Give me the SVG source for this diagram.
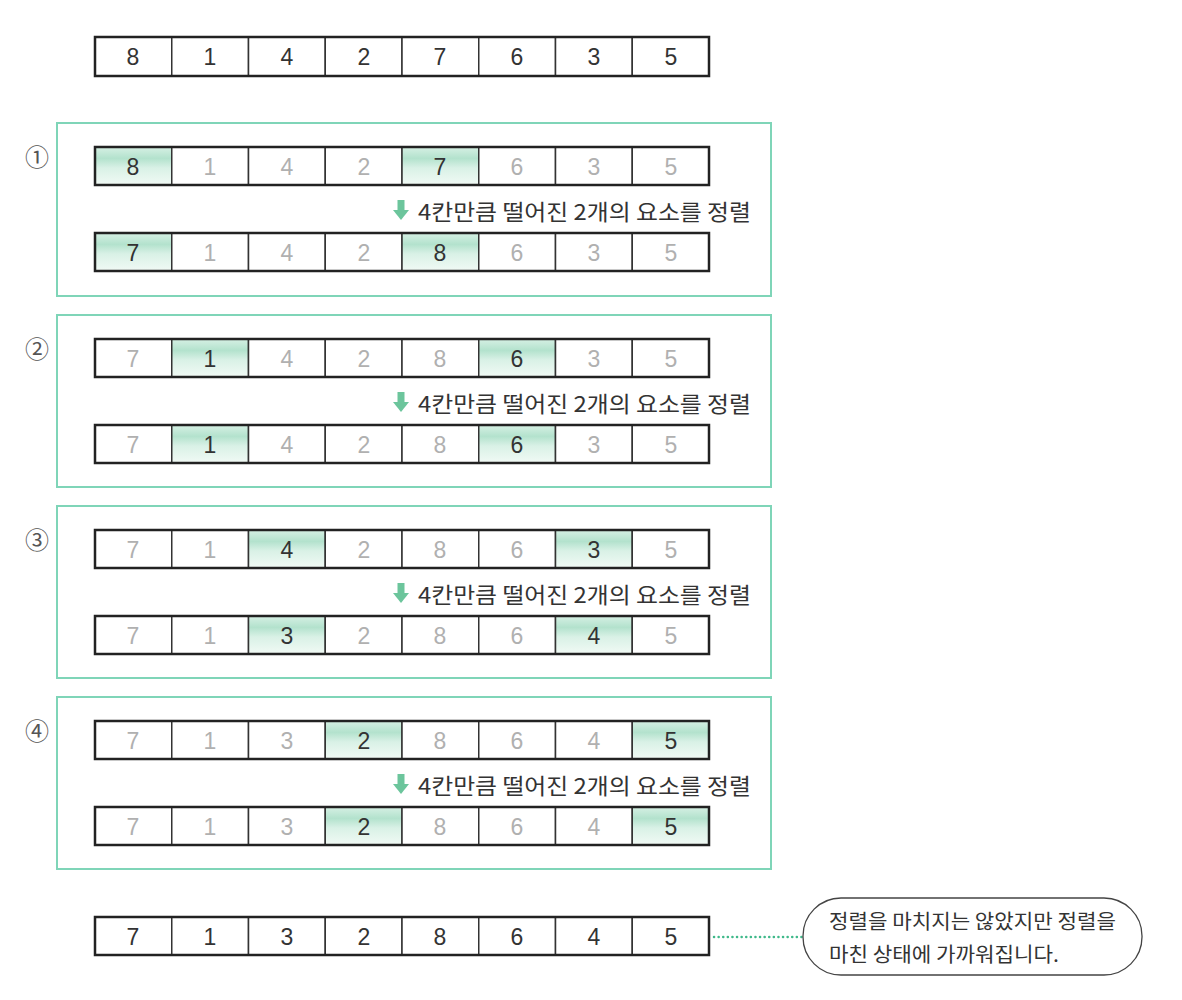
<svg xmlns="http://www.w3.org/2000/svg" width="1182" height="1000" viewBox="0 0 1182 1000">
<defs>
<linearGradient id="g" x1="0" y1="0" x2="0" y2="1">
<stop offset="0" stop-color="#d6f0e4"/>
<stop offset="0.3" stop-color="#b3e2cd"/>
<stop offset="0.55" stop-color="#d9f1e6"/>
<stop offset="1" stop-color="#f1faf5"/>
</linearGradient>
<g id="arrow"><rect x="-3.5" y="0" width="7" height="11" fill="#6cc59c"/><path d="M-8 10 L8 10 L0 20 Z" fill="#6cc59c"/></g>
</defs>
<style>
.bg{fill:#fff}
.cell{fill:#fff;stroke:#333;stroke-width:1.5}
.hl{fill:url(#g);stroke:#333;stroke-width:1.5}
.outer{fill:none;stroke:#222;stroke-width:2.5}
.n{font-family:"Liberation Sans","Noto Sans",sans-serif;font-size:23px;text-anchor:middle;fill:#333}
.m{font-family:"Liberation Sans","Noto Sans",sans-serif;font-size:23px;text-anchor:middle;fill:#b0b0b0}
.box{fill:none;stroke:#7fd5b8;stroke-width:2}
.lbl{font-family:"Noto Sans CJK KR","Noto Sans",sans-serif;font-size:22px;fill:#333}
.cl{font-family:"Noto Sans CJK KR","Noto Sans",sans-serif;font-size:20px;fill:#333}
.circ{font-family:"Noto Sans CJK KR","DejaVu Sans",sans-serif;font-size:24px;fill:#555;text-anchor:middle}
</style>
<rect class="bg" width="1182" height="1000"/>

<g id="top-array">
<rect class="cell" x="95" y="37" width="76.75" height="39"/><rect class="cell" x="171.75" y="37" width="76.75" height="39"/><rect class="cell" x="248.5" y="37" width="76.75" height="39"/><rect class="cell" x="325.25" y="37" width="76.75" height="39"/><rect class="cell" x="402" y="37" width="76.75" height="39"/><rect class="cell" x="478.75" y="37" width="76.75" height="39"/><rect class="cell" x="555.5" y="37" width="76.75" height="39"/><rect class="cell" x="632.25" y="37" width="76.75" height="39"/>
<rect class="outer" x="95" y="37" width="614" height="39"/>
<text class="n" x="133" y="65">8</text><text class="n" x="210" y="65">1</text><text class="n" x="287" y="65">4</text><text class="n" x="364" y="65">2</text><text class="n" x="440" y="65">7</text><text class="n" x="517" y="65">6</text><text class="n" x="594" y="65">3</text><text class="n" x="671" y="65">5</text>
</g>

<g id="step1">
<rect class="box" x="57" y="123" width="714" height="173"/>
<text class="circ" x="37" y="166">①</text>
<rect class="hl" x="95" y="147" width="76.75" height="38"/><rect class="cell" x="171.75" y="147" width="76.75" height="38"/><rect class="cell" x="248.5" y="147" width="76.75" height="38"/><rect class="cell" x="325.25" y="147" width="76.75" height="38"/><rect class="hl" x="402" y="147" width="76.75" height="38"/><rect class="cell" x="478.75" y="147" width="76.75" height="38"/><rect class="cell" x="555.5" y="147" width="76.75" height="38"/><rect class="cell" x="632.25" y="147" width="76.75" height="38"/>
<rect class="outer" x="95" y="147" width="614" height="38"/>
<text class="n" x="133" y="175">8</text><text class="m" x="210" y="175">1</text><text class="m" x="287" y="175">4</text><text class="m" x="364" y="175">2</text><text class="n" x="440" y="175">7</text><text class="m" x="517" y="175">6</text><text class="m" x="594" y="175">3</text><text class="m" x="671" y="175">5</text>
<use href="#arrow" x="401" y="200"/>
<text class="lbl" x="418" y="220" textLength="333" lengthAdjust="spacingAndGlyphs">4칸만큼 떨어진 2개의 요소를 정렬</text>
<rect class="hl" x="95" y="233" width="76.75" height="38"/><rect class="cell" x="171.75" y="233" width="76.75" height="38"/><rect class="cell" x="248.5" y="233" width="76.75" height="38"/><rect class="cell" x="325.25" y="233" width="76.75" height="38"/><rect class="hl" x="402" y="233" width="76.75" height="38"/><rect class="cell" x="478.75" y="233" width="76.75" height="38"/><rect class="cell" x="555.5" y="233" width="76.75" height="38"/><rect class="cell" x="632.25" y="233" width="76.75" height="38"/>
<rect class="outer" x="95" y="233" width="614" height="38"/>
<text class="n" x="133" y="261">7</text><text class="m" x="210" y="261">1</text><text class="m" x="287" y="261">4</text><text class="m" x="364" y="261">2</text><text class="n" x="440" y="261">8</text><text class="m" x="517" y="261">6</text><text class="m" x="594" y="261">3</text><text class="m" x="671" y="261">5</text>
</g>

<g id="step2">
<rect class="box" x="57" y="315" width="714" height="172"/>
<text class="circ" x="37" y="358">②</text>
<rect class="cell" x="95" y="339" width="76.75" height="38"/><rect class="hl" x="171.75" y="339" width="76.75" height="38"/><rect class="cell" x="248.5" y="339" width="76.75" height="38"/><rect class="cell" x="325.25" y="339" width="76.75" height="38"/><rect class="cell" x="402" y="339" width="76.75" height="38"/><rect class="hl" x="478.75" y="339" width="76.75" height="38"/><rect class="cell" x="555.5" y="339" width="76.75" height="38"/><rect class="cell" x="632.25" y="339" width="76.75" height="38"/>
<rect class="outer" x="95" y="339" width="614" height="38"/>
<text class="m" x="133" y="367">7</text><text class="n" x="210" y="367">1</text><text class="m" x="287" y="367">4</text><text class="m" x="364" y="367">2</text><text class="m" x="440" y="367">8</text><text class="n" x="517" y="367">6</text><text class="m" x="594" y="367">3</text><text class="m" x="671" y="367">5</text>
<use href="#arrow" x="401" y="392"/>
<text class="lbl" x="418" y="412" textLength="333" lengthAdjust="spacingAndGlyphs">4칸만큼 떨어진 2개의 요소를 정렬</text>
<rect class="cell" x="95" y="425" width="76.75" height="38"/><rect class="hl" x="171.75" y="425" width="76.75" height="38"/><rect class="cell" x="248.5" y="425" width="76.75" height="38"/><rect class="cell" x="325.25" y="425" width="76.75" height="38"/><rect class="cell" x="402" y="425" width="76.75" height="38"/><rect class="hl" x="478.75" y="425" width="76.75" height="38"/><rect class="cell" x="555.5" y="425" width="76.75" height="38"/><rect class="cell" x="632.25" y="425" width="76.75" height="38"/>
<rect class="outer" x="95" y="425" width="614" height="38"/>
<text class="m" x="133" y="453">7</text><text class="n" x="210" y="453">1</text><text class="m" x="287" y="453">4</text><text class="m" x="364" y="453">2</text><text class="m" x="440" y="453">8</text><text class="n" x="517" y="453">6</text><text class="m" x="594" y="453">3</text><text class="m" x="671" y="453">5</text>
</g>

<g id="step3">
<rect class="box" x="57" y="506" width="714" height="172"/>
<text class="circ" x="37" y="549">③</text>
<rect class="cell" x="95" y="530" width="76.75" height="38"/><rect class="cell" x="171.75" y="530" width="76.75" height="38"/><rect class="hl" x="248.5" y="530" width="76.75" height="38"/><rect class="cell" x="325.25" y="530" width="76.75" height="38"/><rect class="cell" x="402" y="530" width="76.75" height="38"/><rect class="cell" x="478.75" y="530" width="76.75" height="38"/><rect class="hl" x="555.5" y="530" width="76.75" height="38"/><rect class="cell" x="632.25" y="530" width="76.75" height="38"/>
<rect class="outer" x="95" y="530" width="614" height="38"/>
<text class="m" x="133" y="558">7</text><text class="m" x="210" y="558">1</text><text class="n" x="287" y="558">4</text><text class="m" x="364" y="558">2</text><text class="m" x="440" y="558">8</text><text class="m" x="517" y="558">6</text><text class="n" x="594" y="558">3</text><text class="m" x="671" y="558">5</text>
<use href="#arrow" x="401" y="583"/>
<text class="lbl" x="418" y="603" textLength="333" lengthAdjust="spacingAndGlyphs">4칸만큼 떨어진 2개의 요소를 정렬</text>
<rect class="cell" x="95" y="616" width="76.75" height="38"/><rect class="cell" x="171.75" y="616" width="76.75" height="38"/><rect class="hl" x="248.5" y="616" width="76.75" height="38"/><rect class="cell" x="325.25" y="616" width="76.75" height="38"/><rect class="cell" x="402" y="616" width="76.75" height="38"/><rect class="cell" x="478.75" y="616" width="76.75" height="38"/><rect class="hl" x="555.5" y="616" width="76.75" height="38"/><rect class="cell" x="632.25" y="616" width="76.75" height="38"/>
<rect class="outer" x="95" y="616" width="614" height="38"/>
<text class="m" x="133" y="644">7</text><text class="m" x="210" y="644">1</text><text class="n" x="287" y="644">3</text><text class="m" x="364" y="644">2</text><text class="m" x="440" y="644">8</text><text class="m" x="517" y="644">6</text><text class="n" x="594" y="644">4</text><text class="m" x="671" y="644">5</text>
</g>

<g id="step4">
<rect class="box" x="57" y="697" width="714" height="172"/>
<text class="circ" x="37" y="740">④</text>
<rect class="cell" x="95" y="721" width="76.75" height="38"/><rect class="cell" x="171.75" y="721" width="76.75" height="38"/><rect class="cell" x="248.5" y="721" width="76.75" height="38"/><rect class="hl" x="325.25" y="721" width="76.75" height="38"/><rect class="cell" x="402" y="721" width="76.75" height="38"/><rect class="cell" x="478.75" y="721" width="76.75" height="38"/><rect class="cell" x="555.5" y="721" width="76.75" height="38"/><rect class="hl" x="632.25" y="721" width="76.75" height="38"/>
<rect class="outer" x="95" y="721" width="614" height="38"/>
<text class="m" x="133" y="749">7</text><text class="m" x="210" y="749">1</text><text class="m" x="287" y="749">3</text><text class="n" x="364" y="749">2</text><text class="m" x="440" y="749">8</text><text class="m" x="517" y="749">6</text><text class="m" x="594" y="749">4</text><text class="n" x="671" y="749">5</text>
<use href="#arrow" x="401" y="774"/>
<text class="lbl" x="418" y="794" textLength="333" lengthAdjust="spacingAndGlyphs">4칸만큼 떨어진 2개의 요소를 정렬</text>
<rect class="cell" x="95" y="807" width="76.75" height="38"/><rect class="cell" x="171.75" y="807" width="76.75" height="38"/><rect class="cell" x="248.5" y="807" width="76.75" height="38"/><rect class="hl" x="325.25" y="807" width="76.75" height="38"/><rect class="cell" x="402" y="807" width="76.75" height="38"/><rect class="cell" x="478.75" y="807" width="76.75" height="38"/><rect class="cell" x="555.5" y="807" width="76.75" height="38"/><rect class="hl" x="632.25" y="807" width="76.75" height="38"/>
<rect class="outer" x="95" y="807" width="614" height="38"/>
<text class="m" x="133" y="835">7</text><text class="m" x="210" y="835">1</text><text class="m" x="287" y="835">3</text><text class="n" x="364" y="835">2</text><text class="m" x="440" y="835">8</text><text class="m" x="517" y="835">6</text><text class="m" x="594" y="835">4</text><text class="n" x="671" y="835">5</text>
</g>

<g id="bottom-array">
<rect class="cell" x="95" y="917" width="76.75" height="38"/><rect class="cell" x="171.75" y="917" width="76.75" height="38"/><rect class="cell" x="248.5" y="917" width="76.75" height="38"/><rect class="cell" x="325.25" y="917" width="76.75" height="38"/><rect class="cell" x="402" y="917" width="76.75" height="38"/><rect class="cell" x="478.75" y="917" width="76.75" height="38"/><rect class="cell" x="555.5" y="917" width="76.75" height="38"/><rect class="cell" x="632.25" y="917" width="76.75" height="38"/>
<rect class="outer" x="95" y="917" width="614" height="38"/>
<text class="n" x="133" y="945">7</text><text class="n" x="210" y="945">1</text><text class="n" x="287" y="945">3</text><text class="n" x="364" y="945">2</text><text class="n" x="440" y="945">8</text><text class="n" x="517" y="945">6</text><text class="n" x="594" y="945">4</text><text class="n" x="671" y="945">5</text>
</g>

<g id="connectors">
<line x1="714" y1="937" x2="802" y2="937" stroke="#3fb98a" stroke-width="2.5" stroke-dasharray="0.1 4.5" stroke-linecap="round"/>
</g>

<g id="callout">
<rect x="803" y="898" width="339" height="77" rx="38" ry="38" fill="#fff" stroke="#444" stroke-width="1.3"/>
<text class="cl" x="829" y="929" textLength="287" lengthAdjust="spacingAndGlyphs">정렬을 마치지는 않았지만 정렬을</text>
<text class="cl" x="829" y="962" textLength="230" lengthAdjust="spacingAndGlyphs">마친 상태에 가까워집니다.</text>
</g>
</svg>
